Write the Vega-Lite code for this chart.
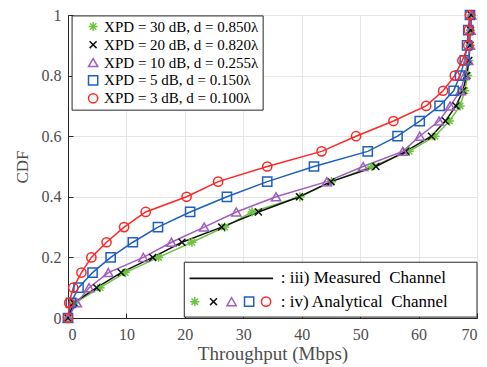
{
  "$schema": "https://vega.github.io/schema/vega-lite/v6.json",
  "width": 409,
  "height": 303,
  "autosize": {"type": "none"},
  "padding": {"left": 68, "top": 15, "right": 10, "bottom": 49},
  "background": "white",
  "config": {
    "view": {"stroke": "#262626", "strokeWidth": 1},
    "font": "Liberation Serif",
    "axis": {
      "labelFont": "Liberation Serif",
      "titleFont": "Liberation Serif",
      "labelFontSize": 16,
      "titleFontSize": 19,
      "labelColor": "#4d4d4d",
      "titleColor": "#4d4d4d",
      "titleFontWeight": "normal",
      "gridColor": "#e6e6e6",
      "gridWidth": 1,
      "domainColor": "#262626",
      "tickColor": "#262626",
      "tickSize": -5
    }
  },
  "datasets": {
    "curves": [
      {"s": "XPD = 30 dB, d = 0.850λ", "x": 0, "y": 0}, {"s": "XPD = 30 dB, d = 0.850λ", "x": 1.2, "y": 0.05}, {"s": "XPD = 30 dB, d = 0.850λ", "x": 5.5, "y": 0.1}, {"s": "XPD = 30 dB, d = 0.850λ", "x": 9.8, "y": 0.15}, {"s": "XPD = 30 dB, d = 0.850λ", "x": 15.5, "y": 0.2}, {"s": "XPD = 30 dB, d = 0.850λ", "x": 21.2, "y": 0.25}, {"s": "XPD = 30 dB, d = 0.850λ", "x": 26.8, "y": 0.3}, {"s": "XPD = 30 dB, d = 0.850λ", "x": 31.5, "y": 0.35}, {"s": "XPD = 30 dB, d = 0.850λ", "x": 39.7, "y": 0.4}, {"s": "XPD = 30 dB, d = 0.850λ", "x": 45.1, "y": 0.45}, {"s": "XPD = 30 dB, d = 0.850λ", "x": 52, "y": 0.5}, {"s": "XPD = 30 dB, d = 0.850λ", "x": 58.4, "y": 0.55}, {"s": "XPD = 30 dB, d = 0.850λ", "x": 62.8, "y": 0.6}, {"s": "XPD = 30 dB, d = 0.850λ", "x": 65.3, "y": 0.65}, {"s": "XPD = 30 dB, d = 0.850λ", "x": 67.1, "y": 0.7}, {"s": "XPD = 30 dB, d = 0.850λ", "x": 67.9, "y": 0.75}, {"s": "XPD = 30 dB, d = 0.850λ", "x": 68.4, "y": 0.8}, {"s": "XPD = 30 dB, d = 0.850λ", "x": 68.6, "y": 0.85}, {"s": "XPD = 30 dB, d = 0.850λ", "x": 68.8, "y": 0.9}, {"s": "XPD = 30 dB, d = 0.850λ", "x": 68.9, "y": 0.95}, {"s": "XPD = 30 dB, d = 0.850λ", "x": 69, "y": 1},
      {"s": "XPD = 20 dB, d = 0.820λ", "x": 0, "y": 0}, {"s": "XPD = 20 dB, d = 0.820λ", "x": 1, "y": 0.05}, {"s": "XPD = 20 dB, d = 0.820λ", "x": 4.9, "y": 0.1}, {"s": "XPD = 20 dB, d = 0.820λ", "x": 9.1, "y": 0.15}, {"s": "XPD = 20 dB, d = 0.820λ", "x": 14.5, "y": 0.2}, {"s": "XPD = 20 dB, d = 0.820λ", "x": 19.5, "y": 0.25}, {"s": "XPD = 20 dB, d = 0.820λ", "x": 26.3, "y": 0.3}, {"s": "XPD = 20 dB, d = 0.820λ", "x": 32.6, "y": 0.35}, {"s": "XPD = 20 dB, d = 0.820λ", "x": 39.6, "y": 0.4}, {"s": "XPD = 20 dB, d = 0.820λ", "x": 45, "y": 0.45}, {"s": "XPD = 20 dB, d = 0.820λ", "x": 52.7, "y": 0.5}, {"s": "XPD = 20 dB, d = 0.820λ", "x": 57.8, "y": 0.55}, {"s": "XPD = 20 dB, d = 0.820λ", "x": 62.2, "y": 0.6}, {"s": "XPD = 20 dB, d = 0.820λ", "x": 64.6, "y": 0.65}, {"s": "XPD = 20 dB, d = 0.820λ", "x": 66.4, "y": 0.7}, {"s": "XPD = 20 dB, d = 0.820λ", "x": 67.6, "y": 0.75}, {"s": "XPD = 20 dB, d = 0.820λ", "x": 68.2, "y": 0.8}, {"s": "XPD = 20 dB, d = 0.820λ", "x": 68.6, "y": 0.85}, {"s": "XPD = 20 dB, d = 0.820λ", "x": 68.8, "y": 0.9}, {"s": "XPD = 20 dB, d = 0.820λ", "x": 68.9, "y": 0.95}, {"s": "XPD = 20 dB, d = 0.820λ", "x": 69, "y": 1},
      {"s": "XPD = 10 dB, d = 0.255λ", "x": 0, "y": 0}, {"s": "XPD = 10 dB, d = 0.255λ", "x": 1.5, "y": 0.05}, {"s": "XPD = 10 dB, d = 0.255λ", "x": 3.6, "y": 0.1}, {"s": "XPD = 10 dB, d = 0.255λ", "x": 6.9, "y": 0.15}, {"s": "XPD = 10 dB, d = 0.255λ", "x": 12.9, "y": 0.2}, {"s": "XPD = 10 dB, d = 0.255λ", "x": 17.7, "y": 0.25}, {"s": "XPD = 10 dB, d = 0.255λ", "x": 23.3, "y": 0.3}, {"s": "XPD = 10 dB, d = 0.255λ", "x": 28.8, "y": 0.35}, {"s": "XPD = 10 dB, d = 0.255λ", "x": 35.6, "y": 0.4}, {"s": "XPD = 10 dB, d = 0.255λ", "x": 44.3, "y": 0.45}, {"s": "XPD = 10 dB, d = 0.255λ", "x": 50.5, "y": 0.5}, {"s": "XPD = 10 dB, d = 0.255λ", "x": 57.3, "y": 0.55}, {"s": "XPD = 10 dB, d = 0.255λ", "x": 60.2, "y": 0.6}, {"s": "XPD = 10 dB, d = 0.255λ", "x": 63.5, "y": 0.65}, {"s": "XPD = 10 dB, d = 0.255λ", "x": 65.4, "y": 0.7}, {"s": "XPD = 10 dB, d = 0.255λ", "x": 67.2, "y": 0.75}, {"s": "XPD = 10 dB, d = 0.255λ", "x": 67.9, "y": 0.8}, {"s": "XPD = 10 dB, d = 0.255λ", "x": 68.5, "y": 0.85}, {"s": "XPD = 10 dB, d = 0.255λ", "x": 68.8, "y": 0.9}, {"s": "XPD = 10 dB, d = 0.255λ", "x": 68.9, "y": 0.95}, {"s": "XPD = 10 dB, d = 0.255λ", "x": 69, "y": 1},
      {"s": "XPD = 5 dB, d = 0.150λ", "x": 0, "y": 0}, {"s": "XPD = 5 dB, d = 0.150λ", "x": 0.5, "y": 0.05}, {"s": "XPD = 5 dB, d = 0.150λ", "x": 1.8, "y": 0.1}, {"s": "XPD = 5 dB, d = 0.150λ", "x": 4.2, "y": 0.15}, {"s": "XPD = 5 dB, d = 0.150λ", "x": 7.3, "y": 0.2}, {"s": "XPD = 5 dB, d = 0.150λ", "x": 11.1, "y": 0.25}, {"s": "XPD = 5 dB, d = 0.150λ", "x": 15.4, "y": 0.3}, {"s": "XPD = 5 dB, d = 0.150λ", "x": 20.9, "y": 0.35}, {"s": "XPD = 5 dB, d = 0.150λ", "x": 27.2, "y": 0.4}, {"s": "XPD = 5 dB, d = 0.150λ", "x": 34.1, "y": 0.45}, {"s": "XPD = 5 dB, d = 0.150λ", "x": 42.1, "y": 0.5}, {"s": "XPD = 5 dB, d = 0.150λ", "x": 51.3, "y": 0.55}, {"s": "XPD = 5 dB, d = 0.150λ", "x": 56.4, "y": 0.6}, {"s": "XPD = 5 dB, d = 0.150λ", "x": 60.2, "y": 0.65}, {"s": "XPD = 5 dB, d = 0.150λ", "x": 63.6, "y": 0.7}, {"s": "XPD = 5 dB, d = 0.150λ", "x": 66, "y": 0.75}, {"s": "XPD = 5 dB, d = 0.150λ", "x": 67.1, "y": 0.8}, {"s": "XPD = 5 dB, d = 0.150λ", "x": 67.9, "y": 0.85}, {"s": "XPD = 5 dB, d = 0.150λ", "x": 68.3, "y": 0.9}, {"s": "XPD = 5 dB, d = 0.150λ", "x": 68.5, "y": 0.95}, {"s": "XPD = 5 dB, d = 0.150λ", "x": 68.8, "y": 1},
      {"s": "XPD = 3 dB, d = 0.100λ", "x": 0, "y": 0}, {"s": "XPD = 3 dB, d = 0.100λ", "x": 0.2, "y": 0.05}, {"s": "XPD = 3 dB, d = 0.100λ", "x": 0.9, "y": 0.1}, {"s": "XPD = 3 dB, d = 0.100λ", "x": 2.3, "y": 0.15}, {"s": "XPD = 3 dB, d = 0.100λ", "x": 4.0, "y": 0.2}, {"s": "XPD = 3 dB, d = 0.100λ", "x": 6.6, "y": 0.25}, {"s": "XPD = 3 dB, d = 0.100λ", "x": 9.6, "y": 0.3}, {"s": "XPD = 3 dB, d = 0.100λ", "x": 13.3, "y": 0.35}, {"s": "XPD = 3 dB, d = 0.100λ", "x": 20.3, "y": 0.4}, {"s": "XPD = 3 dB, d = 0.100λ", "x": 25.7, "y": 0.45}, {"s": "XPD = 3 dB, d = 0.100λ", "x": 34.1, "y": 0.5}, {"s": "XPD = 3 dB, d = 0.100λ", "x": 43.4, "y": 0.55}, {"s": "XPD = 3 dB, d = 0.100λ", "x": 49.3, "y": 0.6}, {"s": "XPD = 3 dB, d = 0.100λ", "x": 55.7, "y": 0.65}, {"s": "XPD = 3 dB, d = 0.100λ", "x": 61.3, "y": 0.7}, {"s": "XPD = 3 dB, d = 0.100λ", "x": 64.2, "y": 0.75}, {"s": "XPD = 3 dB, d = 0.100λ", "x": 66.2, "y": 0.8}, {"s": "XPD = 3 dB, d = 0.100λ", "x": 67.5, "y": 0.85}, {"s": "XPD = 3 dB, d = 0.100λ", "x": 68.5, "y": 0.9}, {"s": "XPD = 3 dB, d = 0.100λ", "x": 68.6, "y": 0.95}, {"s": "XPD = 3 dB, d = 0.100λ", "x": 68.8, "y": 1}
    ],
    "keyMarkers": [
      {"s": "XPD = 30 dB, d = 0.850λ", "x": 4.3, "y": 0.962, "t": "XPD = 30 dB, d = 0.850λ"},
      {"s": "XPD = 20 dB, d = 0.820λ", "x": 4.3, "y": 0.902, "t": "XPD = 20 dB, d = 0.820λ"},
      {"s": "XPD = 10 dB, d = 0.255λ", "x": 4.3, "y": 0.843, "t": "XPD = 10 dB, d = 0.255λ"},
      {"s": "XPD = 5 dB, d = 0.150λ", "x": 4.3, "y": 0.784, "t": "XPD = 5 dB, d = 0.150λ"},
      {"s": "XPD = 3 dB, d = 0.100λ", "x": 4.3, "y": 0.725, "t": "XPD = 3 dB, d = 0.100λ"}
    ],
    "keyBox": [{"x": 0.7, "x2": 33.4, "y": 0.686, "y2": 0.997}],
    "legendMarkers": [
      {"s": "XPD = 30 dB, d = 0.850λ", "x": 21.7, "y": 0.054},
      {"s": "XPD = 20 dB, d = 0.820λ", "x": 24.9, "y": 0.054},
      {"s": "XPD = 10 dB, d = 0.255λ", "x": 28.0, "y": 0.054},
      {"s": "XPD = 5 dB, d = 0.150λ", "x": 31.0, "y": 0.054},
      {"s": "XPD = 3 dB, d = 0.100λ", "x": 33.9, "y": 0.054}
    ],
    "legendBox": [{"x": 19.9, "x2": 70, "y": 0.003, "y2": 0.184}],
    "legendLine": [{"x": 20.8, "x2": 35.1, "y": 0.131}],
    "legendText": [
      {"x": 36.4, "y": 0.131, "t": ": iii) Measured\u00a0 Channel"},
      {"x": 36.4, "y": 0.054, "t": ": iv) Analytical\u00a0 Channel"}
    ]
  },
  "layer": [
    {
      "data": {"name": "curves"},
      "mark": {"type": "line", "strokeWidth": 1.5, "clip": true},
      "encoding": {
        "x": {"field": "x", "type": "quantitative", "scale": {"domain": [0, 70], "nice": false}, "axis": {"title": "Throughput (Mbps)", "values": [0, 10, 20, 30, 40, 50, 60, 70], "labelPadding": 13, "titlePadding": 2}},
        "y": {"field": "y", "type": "quantitative", "scale": {"domain": [0, 1], "nice": false}, "axis": {"title": "CDF", "titleFontSize": 17, "values": [0, 0.2, 0.4, 0.6, 0.8, 1], "format": "~g", "labelPadding": 12, "titlePadding": 10}},
        "order": {"field": "y", "type": "quantitative"},
        "detail": {"field": "s"},
        "color": {
          "field": "s", "type": "nominal",
          "scale": {
            "domain": ["XPD = 30 dB, d = 0.850λ", "XPD = 20 dB, d = 0.820λ", "XPD = 10 dB, d = 0.255λ", "XPD = 5 dB, d = 0.150λ", "XPD = 3 dB, d = 0.100λ"],
            "range": ["#6cc340", "#111111", "#a05cbf", "#1f5fbf", "#ff2626"]
          },
          "legend": null
        }
      }
    },
    {
      "data": {"name": "curves"},
      "mark": {"type": "point", "filled": false, "strokeWidth": 1.5, "size": 85, "opacity": 1},
      "encoding": {
        "x": {"field": "x", "type": "quantitative"},
        "y": {"field": "y", "type": "quantitative"},
        "color": {"field": "s", "type": "nominal", "legend": null},
        "shape": {
          "field": "s", "type": "nominal",
          "scale": {
            "domain": ["XPD = 30 dB, d = 0.850λ", "XPD = 20 dB, d = 0.820λ", "XPD = 10 dB, d = 0.255λ", "XPD = 5 dB, d = 0.150λ", "XPD = 3 dB, d = 0.100λ"],
            "range": ["M-1,0L1,0M0,-1L0,1M-0.7,-0.7L0.7,0.7M-0.7,0.7L0.7,-0.7", "M-0.75,-0.75L0.75,0.75M-0.75,0.75L0.75,-0.75", "triangle-up", "square", "circle"]
          },
          "legend": null
        }
      }
    },
    {
      "data": {"name": "keyBox"},
      "mark": {"type": "rect", "fill": "white", "stroke": "#262626", "strokeWidth": 1},
      "encoding": {
        "x": {"field": "x", "type": "quantitative"},
        "x2": {"field": "x2"},
        "y": {"field": "y", "type": "quantitative"},
        "y2": {"field": "y2"}
      }
    },
    {
      "data": {"name": "keyMarkers"},
      "mark": {"type": "point", "filled": false, "strokeWidth": 1.5, "size": 85, "opacity": 1},
      "encoding": {
        "x": {"field": "x", "type": "quantitative"},
        "y": {"field": "y", "type": "quantitative"},
        "color": {"field": "s", "type": "nominal", "legend": null},
        "shape": {"field": "s", "type": "nominal", "legend": null}
      }
    },
    {
      "data": {"name": "keyMarkers"},
      "mark": {"type": "text", "align": "left", "baseline": "middle", "font": "Liberation Serif", "fontSize": 15, "color": "#000000", "dx": 11},
      "encoding": {
        "x": {"field": "x", "type": "quantitative"},
        "y": {"field": "y", "type": "quantitative"},
        "text": {"field": "t"}
      }
    },
    {
      "data": {"name": "legendBox"},
      "mark": {"type": "rect", "fill": "white", "stroke": "#262626", "strokeWidth": 1},
      "encoding": {
        "x": {"field": "x", "type": "quantitative"},
        "x2": {"field": "x2"},
        "y": {"field": "y", "type": "quantitative"},
        "y2": {"field": "y2"}
      }
    },
    {
      "data": {"name": "legendLine"},
      "mark": {"type": "rule", "color": "#111111", "strokeWidth": 1.8},
      "encoding": {
        "x": {"field": "x", "type": "quantitative"},
        "x2": {"field": "x2"},
        "y": {"field": "y", "type": "quantitative"}
      }
    },
    {
      "data": {"name": "legendMarkers"},
      "mark": {"type": "point", "filled": false, "strokeWidth": 1.5, "size": 85, "opacity": 1},
      "encoding": {
        "x": {"field": "x", "type": "quantitative"},
        "y": {"field": "y", "type": "quantitative"},
        "color": {"field": "s", "type": "nominal", "legend": null},
        "shape": {"field": "s", "type": "nominal", "legend": null}
      }
    },
    {
      "data": {"name": "legendText"},
      "mark": {"type": "text", "align": "left", "baseline": "middle", "font": "Liberation Serif", "fontSize": 17, "color": "#000000"},
      "encoding": {
        "x": {"field": "x", "type": "quantitative"},
        "y": {"field": "y", "type": "quantitative"},
        "text": {"field": "t"}
      }
    }
  ]
}
